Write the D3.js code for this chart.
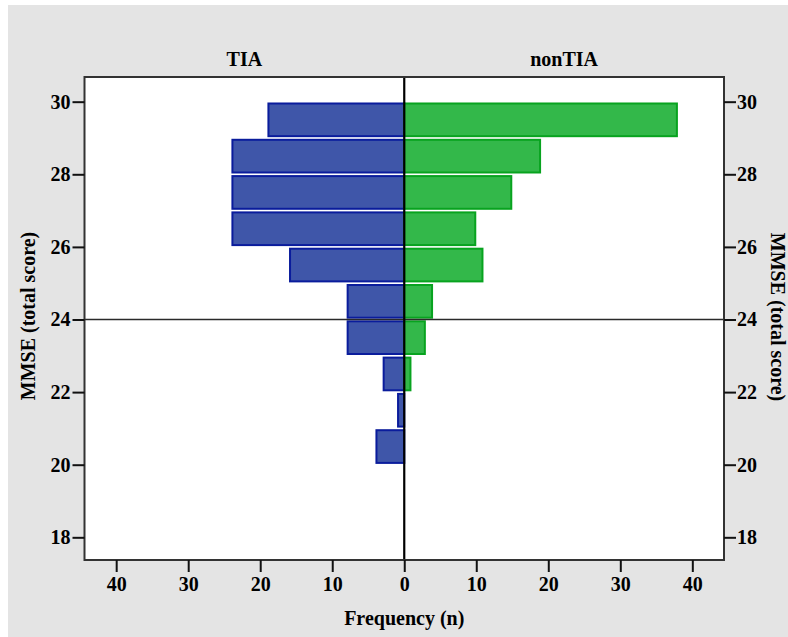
<!DOCTYPE html>
<html>
<head>
<meta charset="utf-8">
<script src="https://cdn.jsdelivr.net/npm/d3@7"></script>
<style>
    body { margin: 0; background: #ffffff; }
    text { font-family: "Liberation Serif", "Times New Roman", serif; font-weight: bold; fill: #000; }
</style>
</head>
<body>
<div id="chart"></div>
<script>

// upper edge of each 1-point MMSE bin (bin spans score-1 .. score)
var scoreBins = [30, 29, 28, 27, 26, 25, 24, 23, 22, 21];
var tiaCounts = [19, 24, 24, 24, 16, 8, 8, 3, 1, 4];
var nonTiaCounts = [38, 19, 15, 10, 11, 4, 3, 1, 0, 0];
var groupNames = ["TIA", "nonTIA"];
var yTicks = [18, 20, 22, 24, 26, 28, 30];
var xTicks = [-40, -30, -20, -10, 0, 10, 20, 30, 40];
var cutOff = 24;

(function() {

    var d3 = window.d3;
    var width = 788;
    var height = 637;

    var plot = { left: 84.5, right: 724, top: 77, bottom: 560 };

    var colours = {
        tiaFill: "#3f56a9",
        tiaStroke: "#0a1c9c",
        nonTiaFill: "#33b84a",
        nonTiaStroke: "#08a31f",
        frame: "#333333"
    };

    var svg = d3.select("#chart")
        .append("svg:svg")
        .attr("width", width)
        .attr("height", height);

    // grey panel, leaves a thin white strip top and left like the source
    svg.append("svg:rect")
        .attr("x", 8)
        .attr("y", 5)
        .attr("width", width - 8)
        .attr("height", height - 5)
        .style("fill", "#e4e4e4");

    svg.append("svg:rect")
        .attr("x", plot.left)
        .attr("y", plot.top)
        .attr("width", plot.right - plot.left)
        .attr("height", plot.bottom - plot.top)
        .style("fill", "#ffffff");

    var xScale = d3.scaleLinear()
        .domain([-44.4, 44.4])
        .range([plot.left, plot.right]);

    var yScale = d3.scaleLinear()
        .domain([17.375, 30.68])
        .range([plot.bottom, plot.top]);

    var rows = scoreBins.map(function(s, i) {
        return { score: s, tia: tiaCounts[i], nonTia: nonTiaCounts[i] };
    });

    var bars = svg.append("svg:g").attr("class", "vis-series");

    //TIA bars grow to the left of zero
    bars.selectAll(".tia-bar")
        .data(rows.filter(function(d) { return d.tia > 0; }))
        .enter()
        .append("svg:rect")
        .attr("class", "tia-bar")
        .attr("x", function(d) { return xScale(-d.tia) + 1; })
        .attr("y", function(d) { return yScale(d.score) + 1.8; })
        .attr("width", function(d) { return xScale(0) - xScale(-d.tia) - 1; })
        .attr("height", function(d) { return yScale(d.score - 1) - yScale(d.score) - 3.6; })
        .style("fill", colours.tiaFill)
        .style("stroke", colours.tiaStroke)
        .style("stroke-width", 2);

    bars.selectAll(".nontia-bar")
        .data(rows.filter(function(d) { return d.nonTia > 0; }))
        .enter()
        .append("svg:rect")
        .attr("class", "nontia-bar")
        .attr("x", xScale(0))
        .attr("y", function(d) { return yScale(d.score) + 1.8; })
        .attr("width", function(d) { return xScale(d.nonTia) - xScale(0) - 1; })
        .attr("height", function(d) { return yScale(d.score - 1) - yScale(d.score) - 3.6; })
        .style("fill", colours.nonTiaFill)
        .style("stroke", colours.nonTiaStroke)
        .style("stroke-width", 2);

    // reference line at the MMSE cut off
    svg.append("svg:line")
        .attr("x1", plot.left)
        .attr("x2", plot.right)
        .attr("y1", yScale(cutOff))
        .attr("y2", yScale(cutOff))
        .style("stroke", "#2a2a2a")
        .style("stroke-width", 1.6);

    svg.append("svg:line")
        .attr("x1", xScale(0))
        .attr("x2", xScale(0))
        .attr("y1", plot.top)
        .attr("y2", plot.bottom)
        .style("stroke", "#000000")
        .style("stroke-width", 2.2);

    svg.append("svg:rect")
        .attr("x", plot.left)
        .attr("y", plot.top)
        .attr("width", plot.right - plot.left)
        .attr("height", plot.bottom - plot.top)
        .style("fill", "none")
        .style("stroke", colours.frame)
        .style("stroke-width", 2);

    var styleAxis = function(g) {
        g.select(".domain").remove();
        g.selectAll(".tick line").style("stroke", "#111").style("stroke-width", 2);
        g.selectAll(".tick text")
            .style("font-family", "'Liberation Serif', 'Times New Roman', serif")
            .style("font-weight", "bold")
            .style("font-size", "20px")
            .style("fill", "#000");
    };

    svg.append("svg:g")
        .attr("transform", "translate(" + plot.left + ",0)")
        .call(d3.axisLeft(yScale).tickValues(yTicks).tickSize(12).tickPadding(2))
        .call(styleAxis);

    svg.append("svg:g")
        .attr("transform", "translate(" + plot.right + ",0)")
        .call(d3.axisRight(yScale).tickValues(yTicks).tickSize(12).tickPadding(1))
        .call(styleAxis);

    svg.append("svg:g")
        .attr("transform", "translate(0," + plot.bottom + ")")
        .call(d3.axisBottom(xScale).tickValues(xTicks).tickSize(12).tickPadding(5)
            .tickFormat(function(d) { return Math.abs(d); }))
        .call(styleAxis);

    // group titles over each half
    svg.selectAll(".group-title")
        .data(groupNames)
        .enter()
        .append("svg:text")
        .attr("class", "group-title")
        .attr("x", function(d, i) {
            return i === 0 ? (plot.left + xScale(0)) / 2 : (xScale(0) + plot.right) / 2;
        })
        .attr("y", 66)
        .attr("text-anchor", "middle")
        .style("font-size", "20px")
        .text(function(d) { return d; });

    svg.append("svg:text")
        .attr("x", xScale(0))
        .attr("y", 625)
        .attr("text-anchor", "middle")
        .style("font-size", "20px")
        .text("Frequency (n)");

    svg.append("svg:text")
        .attr("transform", "translate(35,316) rotate(-90)")
        .attr("text-anchor", "middle")
        .style("font-size", "20px")
        .text("MMSE (total score)");

    svg.append("svg:text")
        .attr("transform", "translate(771,317) rotate(90)")
        .attr("text-anchor", "middle")
        .style("font-size", "20px")
        .text("MMSE (total score)");

}());
</script>
</body>
</html>
